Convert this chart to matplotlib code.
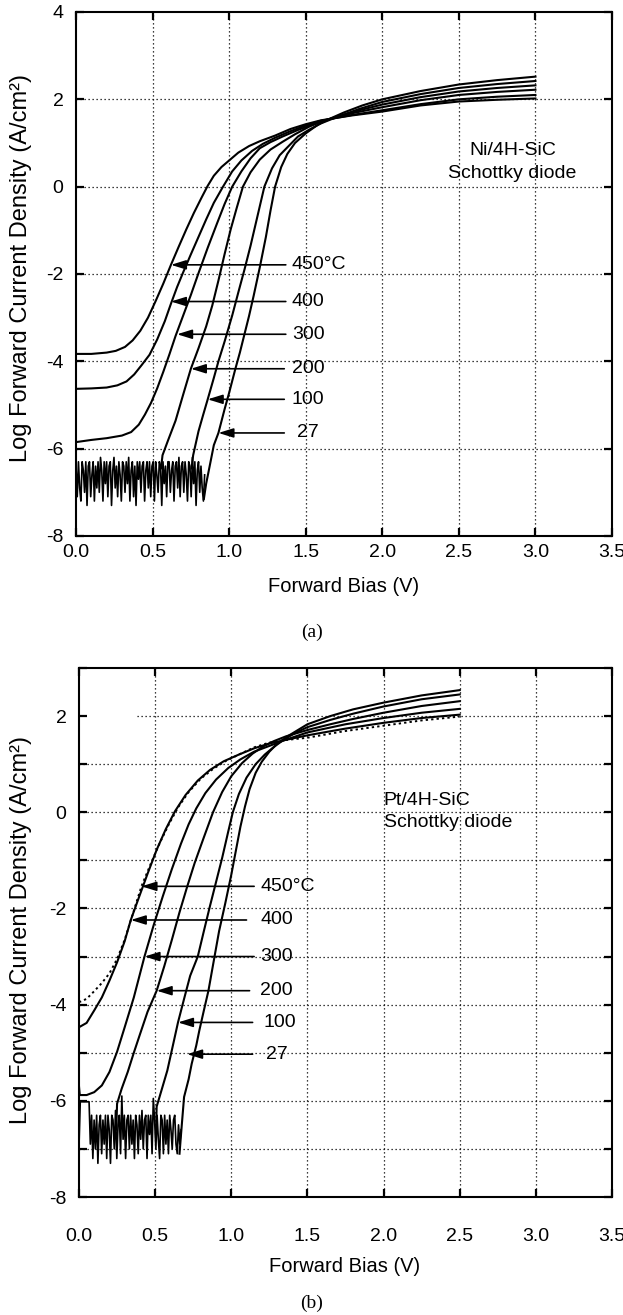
import numpy as np
import matplotlib
matplotlib.use("Agg")
import matplotlib.pyplot as plt

plt.rcParams['font.family'] = ['Liberation Sans', 'DejaVu Sans']

# ---------------- data: panel (a) Ni/4H-SiC ----------------
a_temps = ["450°C", "400", "300", "200", "100", "27"]

a_v450 = [0, 0.1, 0.2, 0.26, 0.32, 0.37, 0.42, 0.47, 0.52, 0.57, 0.62, 0.67, 0.72, 0.77, 0.82, 0.86, 0.90, 0.95, 1.00, 1.06, 1.13, 1.20, 1.30, 1.40, 1.50, 1.60, 1.80, 2.00, 2.25, 2.50, 2.75, 3.00]
a_j450 = [-3.83, -3.83, -3.80, -3.76, -3.67, -3.52, -3.30, -3.00, -2.62, -2.22, -1.79, -1.38, -0.98, -0.60, -0.25, 0.02, 0.25, 0.45, 0.60, 0.78, 0.93, 1.04, 1.17, 1.32, 1.43, 1.52, 1.63, 1.72, 1.86, 1.95, 1.99, 2.02]

a_v400 = [0, 0.1, 0.2, 0.27, 0.33, 0.38, 0.43, 0.48, 0.53, 0.58, 0.62, 0.66, 0.70, 0.75, 0.80, 0.85, 0.90, 0.96, 1.02, 1.08, 1.15, 1.22, 1.30, 1.40, 1.50, 1.60, 1.80, 2.00, 2.25, 2.50, 2.75, 3.00]
a_j400 = [-4.63, -4.62, -4.60, -4.55, -4.46, -4.30, -4.08, -3.85, -3.50, -3.08, -2.68, -2.30, -1.96, -1.55, -1.15, -0.75, -0.37, 0.0, 0.35, 0.60, 0.82, 0.98, 1.12, 1.27, 1.40, 1.51, 1.64, 1.75, 1.89, 2.00, 2.06, 2.10]

a_v300 = [0, 0.1, 0.2, 0.3, 0.36, 0.41, 0.45, 0.49, 0.53, 0.57, 0.61, 0.65, 0.70, 0.75, 0.80, 0.86, 0.92, 0.97, 1.02, 1.08, 1.14, 1.20, 1.27, 1.35, 1.45, 1.55, 1.65, 1.80, 2.00, 2.25, 2.50, 2.75, 3.00]
a_j300 = [-5.85, -5.80, -5.76, -5.70, -5.62, -5.45, -5.22, -4.95, -4.62, -4.24, -3.84, -3.42, -2.95, -2.48, -1.98, -1.40, -0.85, -0.40, 0.0, 0.35, 0.65, 0.88, 1.02, 1.15, 1.30, 1.43, 1.54, 1.68, 1.82, 1.98, 2.10, 2.17, 2.22]

a_v200 = [0.555, 0.565, 0.60, 0.65, 0.70, 0.75, 0.80, 0.85, 0.89, 0.93, 0.97, 1.01, 1.05, 1.09, 1.14, 1.20, 1.27, 1.35, 1.43, 1.52, 1.60, 1.70, 1.85, 2.00, 2.25, 2.50, 2.75, 3.00]
a_j200 = [-6.45, -6.15, -5.82, -5.36, -4.76, -4.17, -3.70, -3.20, -2.72, -2.15, -1.55, -0.98, -0.48, 0.0, 0.33, 0.62, 0.85, 1.03, 1.20, 1.37, 1.49, 1.60, 1.75, 1.88, 2.05, 2.18, 2.26, 2.32]

a_v100 = [0.755, 0.765, 0.80, 0.83, 0.86, 0.90, 0.93, 0.97, 1.02, 1.06, 1.10, 1.14, 1.18, 1.23, 1.28, 1.33, 1.38, 1.45, 1.52, 1.60, 1.70, 1.85, 2.00, 2.25, 2.50, 2.75, 3.00]
a_j100 = [-6.45, -6.15, -5.60, -5.23, -4.87, -4.38, -4.00, -3.55, -2.95, -2.42, -1.90, -1.35, -0.75, 0.0, 0.42, 0.72, 0.90, 1.15, 1.30, 1.45, 1.59, 1.78, 1.94, 2.12, 2.26, 2.35, 2.42]

a_v27 = [0.835, 0.85, 0.87, 0.90, 0.93, 0.97, 1.00, 1.04, 1.07, 1.10, 1.13, 1.16, 1.20, 1.24, 1.27, 1.30, 1.34, 1.38, 1.43, 1.50, 1.58, 1.66, 1.75, 1.87, 2.00, 2.25, 2.50, 2.75, 3.00]
a_j27 = [-7.15, -6.80, -6.45, -5.92, -5.64, -5.10, -4.72, -4.18, -3.80, -3.38, -2.96, -2.50, -1.85, -1.15, -0.55, 0.0, 0.45, 0.75, 1.00, 1.22, 1.42, 1.56, 1.70, 1.86, 2.00, 2.19, 2.34, 2.44, 2.52]

# measurement noise floor (0 - 0.84 V)
a_noise = [-6.4, -7.1, -6.3, -6.9, -7.2, -6.3, -6.5, -7.0, -6.3, -7.3, -6.4, -6.3, -7.1, -6.6, -6.3, -7.2, -6.4, -6.9, -6.3, -7.0,
           -6.2, -6.5, -7.2, -6.3, -6.8, -6.3, -7.1, -6.4, -6.3, -7.3, -6.5, -6.2, -6.9, -6.4, -7.1, -6.3, -6.6, -7.2, -6.3, -6.4,
           -7.0, -6.3, -6.8, -6.2, -7.2, -6.5, -6.3, -7.1, -6.4, -7.3, -6.3, -6.7, -6.3, -7.0, -6.4, -6.3, -7.2, -6.5, -6.3, -6.9,
           -6.3, -7.1, -6.4, -6.3, -7.2, -6.3, -6.6, -7.0, -6.3, -6.4, -7.3, -6.3, -6.8, -6.4, -7.1, -6.3, -6.3, -7.0, -6.5, -6.3,
           -7.2, -6.4, -6.3, -6.9, -6.2, -7.1, -6.4, -6.3, -7.0, -6.3, -6.6, -7.2, -6.3, -6.4, -7.1, -6.2, -6.8, -6.3, -7.3, -6.5,
           -6.3, -7.0, -6.4, -6.9, -7.2, -6.6]
a_noise_span = (0.0, 0.84)

a_tip_v = [0.62, 0.62, 0.66, 0.75, 0.86, 0.93]
a_tip_j = [-1.79, -2.63, -3.38, -4.17, -4.87, -5.64]
a_line_end = [1.37, 1.37, 1.37, 1.36, 1.36, 1.36]
a_text_v = [1.41, 1.41, 1.41, 1.41, 1.41, 1.44]

# ---------------- data: panel (b) Pt/4H-SiC ----------------
b_v450 = [0, 0.05, 0.10, 0.15, 0.20, 0.25, 0.30, 0.35, 0.41, 0.47, 0.53, 0.59, 0.65, 0.72, 0.80, 0.88, 0.96, 1.05, 1.15, 1.25, 1.35, 1.50, 1.75, 2.00, 2.25, 2.50]
b_j450 = [-3.95, -3.88, -3.72, -3.55, -3.35, -3.05, -2.65, -2.15, -1.54, -1.08, -0.64, -0.25, 0.10, 0.42, 0.70, 0.90, 1.06, 1.20, 1.35, 1.45, 1.50, 1.55, 1.69, 1.80, 1.91, 1.99]

b_v400 = [0, 0.05, 0.10, 0.15, 0.20, 0.25, 0.30, 0.34, 0.39, 0.45, 0.51, 0.57, 0.63, 0.70, 0.78, 0.86, 0.95, 1.05, 1.15, 1.25, 1.35, 1.50, 1.75, 2.00, 2.25, 2.50]
b_j400 = [-4.47, -4.38, -4.12, -3.85, -3.50, -3.12, -2.68, -2.24, -1.80, -1.28, -0.78, -0.35, 0.02, 0.36, 0.66, 0.88, 1.06, 1.20, 1.33, 1.43, 1.50, 1.60, 1.74, 1.86, 1.96, 2.03]

b_v300 = [0, 0.005, 0.05, 0.10, 0.15, 0.20, 0.25, 0.30, 0.36, 0.43, 0.49, 0.55, 0.61, 0.67, 0.72, 0.77, 0.83, 0.90, 0.98, 1.06, 1.15, 1.25, 1.35, 1.50, 1.75, 2.00, 2.25, 2.50]
b_j300 = [-5.70, -5.88, -5.88, -5.82, -5.68, -5.40, -4.98, -4.47, -3.85, -3.00, -2.35, -1.75, -1.18, -0.65, -0.25, 0.08, 0.40, 0.68, 0.92, 1.10, 1.26, 1.38, 1.50, 1.66, 1.83, 1.96, 2.07, 2.15]

b_v200 = [0.245, 0.25, 0.28, 0.32, 0.36, 0.40, 0.45, 0.51, 0.56, 0.61, 0.66, 0.71, 0.76, 0.82, 0.88, 0.94, 1.00, 1.07, 1.14, 1.21, 1.28, 1.36, 1.50, 1.65, 1.80, 2.00, 2.25, 2.50]
b_j200 = [-6.60, -6.06, -5.75, -5.40, -5.00, -4.62, -4.15, -3.71, -3.20, -2.65, -2.08, -1.55, -1.05, -0.52, 0.0, 0.42, 0.75, 1.02, 1.22, 1.37, 1.48, 1.58, 1.71, 1.83, 1.94, 2.07, 2.21, 2.31]

b_v100 = [0.505, 0.51, 0.54, 0.58, 0.62, 0.65, 0.69, 0.73, 0.78, 0.82, 0.86, 0.90, 0.94, 0.98, 1.01, 1.05, 1.10, 1.16, 1.22, 1.28, 1.35, 1.42, 1.50, 1.65, 1.80, 2.00, 2.25, 2.50]
b_j100 = [-6.70, -6.12, -5.80, -5.37, -4.80, -4.37, -3.88, -3.40, -3.00, -2.47, -1.95, -1.45, -0.95, -0.40, 0.0, 0.38, 0.72, 1.00, 1.20, 1.36, 1.52, 1.65, 1.77, 1.92, 2.05, 2.20, 2.35, 2.45]

b_v27 = [0.66, 0.675, 0.69, 0.72, 0.74, 0.77, 0.79, 0.82, 0.85, 0.89, 0.92, 0.96, 1.00, 1.03, 1.06, 1.09, 1.12, 1.16, 1.20, 1.25, 1.30, 1.38, 1.50, 1.65, 1.80, 2.00, 2.25, 2.50]
b_j27 = [-7.10, -6.50, -5.92, -5.55, -5.23, -4.85, -4.54, -4.12, -3.71, -3.00, -2.47, -1.90, -1.30, -0.80, -0.30, 0.12, 0.48, 0.82, 1.05, 1.26, 1.42, 1.60, 1.83, 2.00, 2.14, 2.28, 2.43, 2.54]

b_noise = [-6.95, -6.02, -6.02, -6.02, -6.02, -6.02, -6.02, -6.02, -6.02, -6.9, -6.3, -7.2, -6.4, -7.0, -6.3, -7.3, -6.5, -6.3, -7.1, -6.4,
           -6.9, -6.3, -7.2, -6.3, -6.6, -7.3, -6.3, -6.4, -7.0, -6.2, -7.2, -6.5, -6.3, -7.1, -5.9, -6.8, -6.3, -7.2, -6.4, -6.3,
           -7.0, -6.3, -6.9, -6.4, -7.2, -6.3, -6.5, -7.1, -6.3, -6.8, -6.2, -7.0, -6.4, -6.3, -7.2, -6.3, -6.7, -6.3, -7.1, -5.95,
           -6.4, -7.0, -6.3, -6.8, -7.2, -6.3, -6.4, -7.1, -6.3, -6.9, -6.4, -7.1, -6.3, -6.6, -7.0, -6.4, -6.3, -6.9, -7.1, -6.5,
           -6.9, -6.6]
b_noise_span = (0.0, 0.67)

b_tip_v = [0.41, 0.34, 0.43, 0.51, 0.65, 0.71]
b_tip_j = [-1.54, -2.24, -3.00, -3.71, -4.37, -5.03]
b_line_end = [1.15, 1.10, 1.15, 1.12, 1.14, 1.14]
b_text_v = [1.19, 1.19, 1.19, 1.19, 1.21, 1.23]

x_ticks = [0.0, 0.5, 1.0, 1.5, 2.0, 2.5, 3.0, 3.5]
x_tick_labels = ["0.0", "0.5", "1.0", "1.5", "2.0", "2.5", "3.0", "3.5"]

# ---------------- figure ----------------
W, H = 623, 1315
fig = plt.figure(figsize=(W / 100, H / 100), dpi=100)

def px_axes(l, t, r, b):
    return fig.add_axes([l / W, 1 - b / H, (r - l) / W, (b - t) / H])

axA = px_axes(76, 12, 612, 536)
axB = px_axes(79, 668, 612, 1197)

FS = 14
dot = (0, (1, 2.2))

def style(ax, ylim, yticks, ylabels, grid_y, pad):
    ax.set_xlim(0, 3.5)
    ax.set_ylim(*ylim)
    ax.set_xticks(x_ticks)
    ax.set_xticklabels(x_tick_labels, fontsize=FS)
    ax.set_yticks(yticks)
    ax.set_yticklabels(ylabels, fontsize=FS)
    ax.tick_params(direction='in', length=6, width=1.6, top=True, right=True)
    ax.tick_params(axis='x', pad=pad)
    ax.tick_params(axis='y', pad=9)
    for s in ax.spines.values():
        s.set_linewidth(1.5)
    for xv in x_ticks[1:-1]:
        ax.axvline(xv, color='k', lw=0.9, ls=dot, zorder=1)
    for yv, x0 in grid_y:
        ax.plot([x0, 3.5], [yv, yv], color='k', lw=0.9, ls=dot, zorder=1)

style(axA, (-8, 4), [-8, -6, -4, -2, 0, 2, 4], ["-8", "-6", "-4", "-2", "0", "2", "4"],
      [(-6, 0), (-4, 0), (-2, 0), (0, 0), (2, 0)], 6)
style(axB, (-8, 3), [-8, -7, -6, -5, -4, -3, -2, -1, 0, 1, 2, 3],
      ["-8", "", "-6", "", "-4", "", "-2", "", "0", "", "2", ""],
      [(-7, 0), (-6, 0), (-5, 0), (-4, 0), (-3, 0), (-2, 0), (-1, 0), (0, 0), (1, 0), (2, 0.38)], 22)

LW = 1.5
# panel (a)
axA.plot(np.linspace(a_noise_span[0], a_noise_span[1], len(a_noise)), a_noise, color='k', lw=1.2)
for v, j in [(a_v450, a_j450), (a_v400, a_j400), (a_v300, a_j300), (a_v200, a_j200), (a_v100, a_j100), (a_v27, a_j27)]:
    axA.plot(v, j, color='k', lw=LW)

# panel (b)
axB.plot(np.linspace(b_noise_span[0], b_noise_span[1], len(b_noise)), b_noise, color='k', lw=1.2)
axB.plot(b_v450, b_j450, color='k', lw=1.4, ls=(0, (1.2, 1.6)))
for v, j in [(b_v400, b_j400), (b_v300, b_j300), (b_v200, b_j200), (b_v100, b_j100), (b_v27, b_j27)]:
    axB.plot(v, j, color='k', lw=LW)

def arrows(ax, tv, tj, le, tx):
    for lab, v, j, e, t in zip(a_temps, tv, tj, le, tx):
        ax.annotate('', xy=(v, j), xytext=(e, j),
                    arrowprops=dict(arrowstyle='-|>,head_length=0.9,head_width=0.28',
                                    color='k', lw=1.2, shrinkA=0, shrinkB=0, mutation_scale=10))
        ax.text(t, j, lab, fontsize=FS, va='center', ha='left', zorder=5)

arrows(axA, a_tip_v, a_tip_j, a_line_end, a_text_v)
arrows(axB, b_tip_v, b_tip_j, b_line_end, b_text_v)

axA.text(2.85, 0.82, "Ni/4H-SiC", fontsize=FS, ha='center', va='center')
axA.text(2.85, 0.30, "Schottky diode", fontsize=FS, ha='center', va='center')
axB.text(2.0, 0.24, "Pt/4H-SiC", fontsize=FS, ha='left', va='center')
axB.text(2.0, -0.22, "Schottky diode", fontsize=FS, ha='left', va='center')

ylab = "Log Forward Current Density (A/cm²)"
fig.text(21 / W, 1 - 268 / H, ylab, rotation=90, fontsize=17, ha='center', va='center')
fig.text(21 / W, 1 - 930 / H, ylab, rotation=90, fontsize=17, ha='center', va='center')
fig.text(344 / W, 1 - 586 / H, "Forward Bias (V)", fontsize=14.5, ha='center', va='center')
fig.text(345 / W, 1 - 1266 / H, "Forward Bias (V)", fontsize=14.5, ha='center', va='center')
fig.text(312 / W, 1 - 632 / H, "(a)", fontsize=14, ha='center', va='center', family='Liberation Serif')
fig.text(312 / W, 1 - 1303 / H, "(b)", fontsize=14, ha='center', va='center', family='Liberation Serif')

fig.savefig("out.png", dpi=100)
